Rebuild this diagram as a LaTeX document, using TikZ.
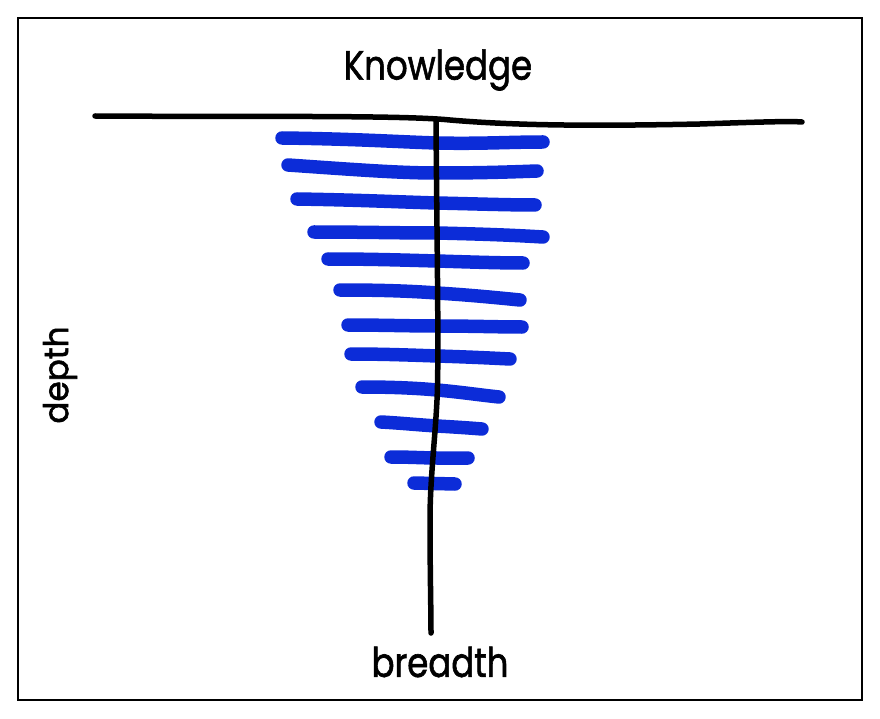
\documentclass[tikz,border=0pt]{standalone}
\usepackage{fontspec}
\usepackage{graphicx}
\setmainfont[FakeBold=1.6]{Poppins}
\definecolor{markerblue}{RGB}{12,44,216}
\begin{document}
\begin{tikzpicture}[x=1pt,y=-1pt,
  frame/.style={line width=2.6pt, draw=black},
  ink/.style={line width=5.5pt, draw=black, line cap=round, line join=round},
  marker/.style={line width=13.5pt, draw=markerblue, line cap=round},
  hand/.style={inner sep=0pt, font=\fontsize{34}{40}\selectfont, yscale=1.2}]
\useasboundingbox (0,0) rectangle (880,719);
\draw[frame] (18,18) rectangle (862,700);
% blue strokes
\draw[marker] (282,138) .. controls (360,139) and (400,142) .. (437,143) .. controls (480,144) and (510,142) .. (543,142);
\draw[marker] (288,165) .. controls (360,170) and (400,173) .. (437,173) .. controls (480,173) and (510,172) .. (537,171);
\draw[marker] (297,199) .. controls (360,200) and (400,202) .. (437,203) .. controls (480,204) and (510,205) .. (535,205);
\draw[marker] (314,232) .. controls (360,232) and (400,233) .. (437,233) .. controls (480,234) and (510,235) .. (543,237);
\draw[marker] (328,259) .. controls (370,259) and (400,260) .. (437,261) .. controls (470,262) and (500,263) .. (523,263);
\draw[marker] (340,290) .. controls (380,290) and (410,291) .. (437,293) .. controls (470,295) and (500,298) .. (520,300);
\draw[marker] (348,325) .. controls (380,325) and (410,326) .. (437,326) .. controls (470,326) and (500,327) .. (522,327);
\draw[marker] (351,354) .. controls (380,354) and (410,355) .. (437,356) .. controls (470,357) and (490,358) .. (510,359);
\draw[marker] (362,387) .. controls (390,387) and (415,388) .. (437,390) .. controls (460,392) and (480,395) .. (499,397);
\draw[marker] (381,422) .. controls (400,423) and (420,425) .. (437,426) .. controls (455,427) and (470,428) .. (482,429);
\draw[marker] (391,457) .. controls (410,457) and (425,458) .. (437,458) .. controls (450,458) and (460,458) .. (468,458);
\draw[marker] (414,483) -- (455,484);
% black axes
\draw[ink] (95,116) .. controls (250,117) and (400,115) .. (450,120) .. controls (520,126) and (600,126) .. (700,124) .. controls (760,122) and (790,121) .. (802,122);
\draw[ink] (436,122) .. controls (437,250) and (439,360) .. (437,400) .. controls (435,440) and (430,480) .. (430,520) .. controls (430,570) and (431,610) .. (431,633);
% texts
\node[hand] (know) at (438,70) {Knowledge};
\node[hand] (bread) at (440,662) {breadth};
\node[hand, rotate=90] (depth) at (60,375) {\scalebox{0.8}[1]{depth}};
\end{tikzpicture}
\end{document}
